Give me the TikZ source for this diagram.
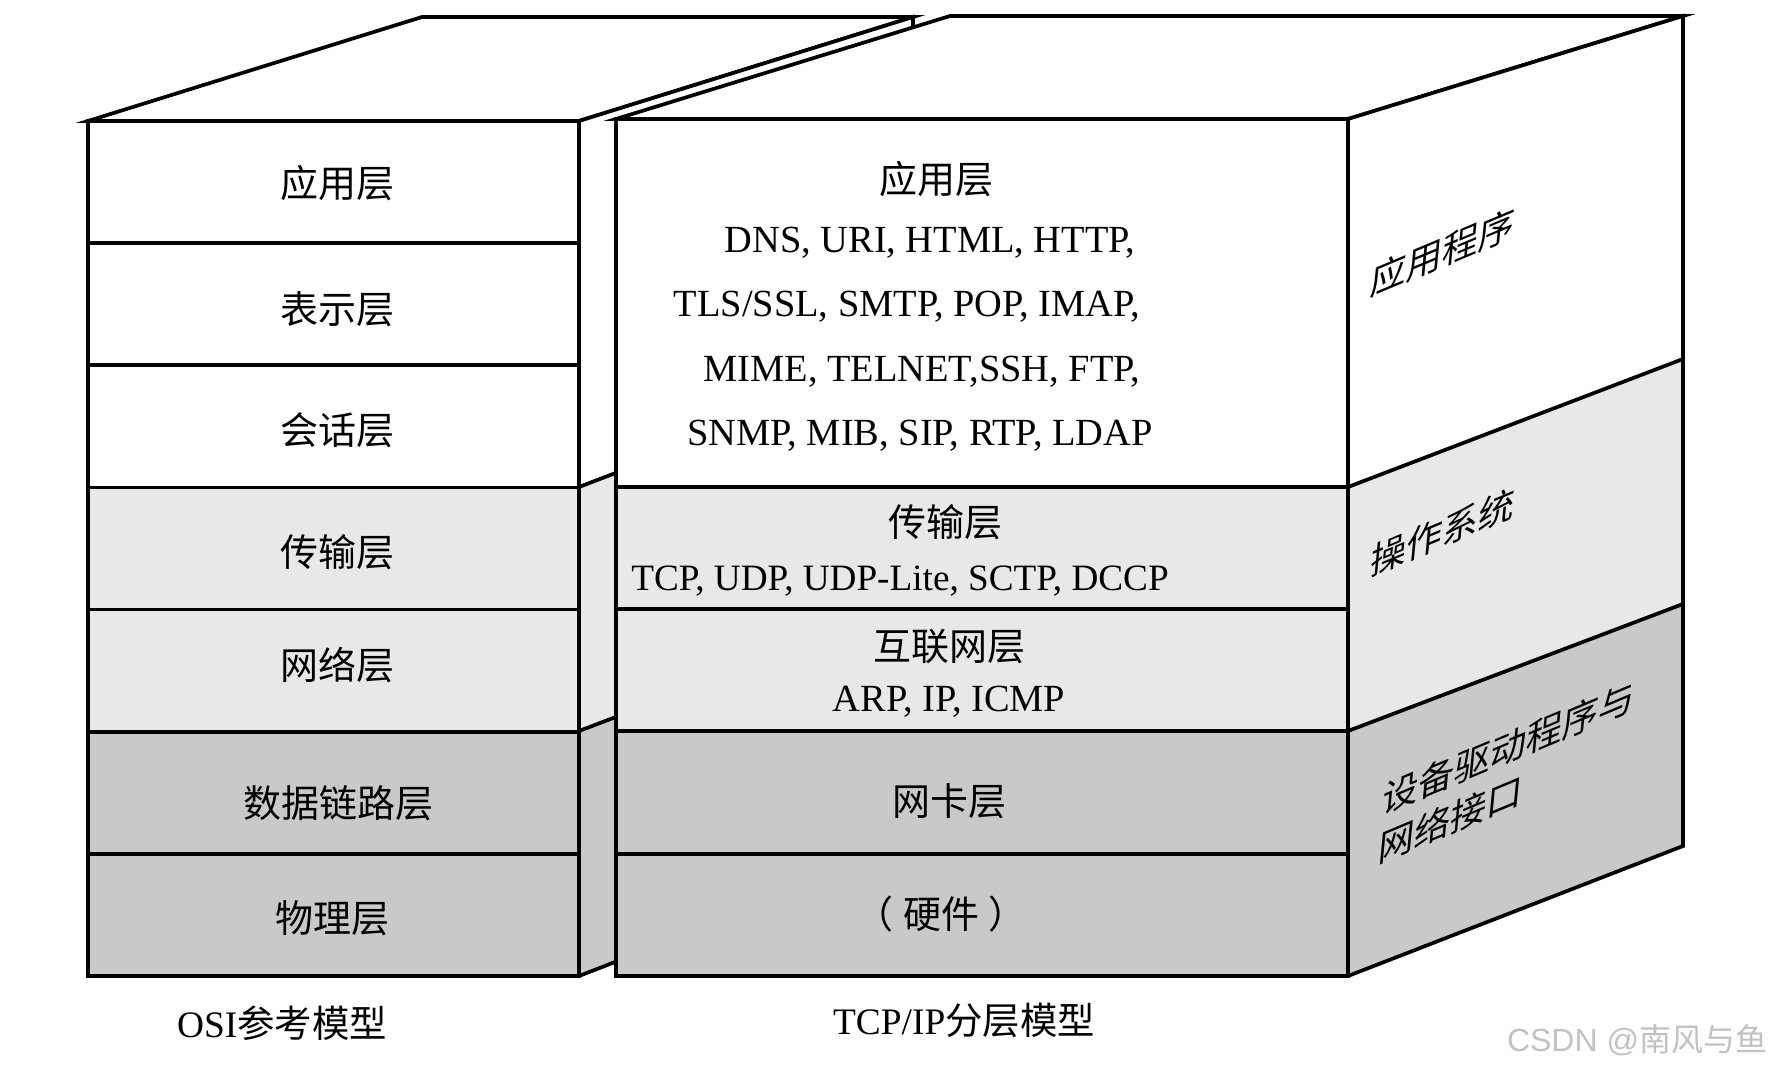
\documentclass[tikz,border=0pt]{standalone}
\usepackage{fontspec}
\setmainfont{Liberation Serif}
\newfontfamily\zhfont{Noto Sans CJK SC}
\newfontfamily\markfont{Liberation Sans}
\usetikzlibrary{positioning, calc}

\definecolor{tonelight}{gray}{0.91}
\definecolor{tonedark}{gray}{0.79}
\definecolor{marktone}{gray}{0.76}
\newcommand{\zh}[1]{{\zhfont #1}}

\begin{document}
\begin{tikzpicture}[
    x=0.5pt, y=-0.5pt,
    line join=miter,
    face/.style={
        draw=black,
        line width=1.85pt
    },
    zhtext/.style={
        font=\fontsize{19}{23}\zhfont,
        inner sep=0pt
    },
    entext/.style={
        font=\fontsize{19.2}{22}\selectfont,
        inner sep=0pt,
        anchor=base
    },
    caption/.style={
        font=\fontsize{18.7}{22}\selectfont,
        inner sep=0pt
    },
    sidetext/.style={
        font=\fontsize{18}{23.5}\zhfont,
        inner sep=0pt,
        align=left,
        yslant=0.42,
        xslant=0.1
    }
]

    % Canvas
    \fill[white] (0,0) rectangle (1776,1068);
    \useasboundingbox (0,0) rectangle (1776,1068);

    % OSI box: top and side faces
    \filldraw[face, fill=white] (88,121) -- (422,17) -- (913,17) -- (579,121) -- cycle;
    \fill[white] (579,121) -- (913,17) -- (913,359) -- (579,487) -- cycle;
    \fill[tonelight] (579,487) -- (913,359) -- (913,604) -- (579,731) -- cycle;
    \fill[tonedark] (579,731) -- (913,604) -- (913,846) -- (579,976) -- cycle;
    \draw[face] (579,487) -- (913,359) (579,731) -- (913,604);
    \draw[face] (579,121) -- (913,17) -- (913,846) -- (579,976);

    % OSI box: front layers
    \foreach \i/\tone in {0/white, 1/white, 2/white, 3/tonelight, 4/tonelight, 5/tonedark, 6/tonedark}
        \filldraw[face, fill=\tone] (88,{121+122.14*\i}) rectangle (579,{121+122.14*(\i+1)});

    % TCP/IP box: top and side faces
    \filldraw[face, fill=white] (616,119) -- (950,16) -- (1683,16) -- (1348,119) -- cycle;
    \fill[white] (1348,119) -- (1683,16) -- (1683,359) -- (1348,487) -- cycle;
    \fill[tonelight] (1348,487) -- (1683,359) -- (1683,604) -- (1348,731) -- cycle;
    \fill[tonedark] (1348,731) -- (1683,604) -- (1683,846) -- (1348,976) -- cycle;
    \draw[face] (1348,487) -- (1683,359) (1348,731) -- (1683,604);
    \draw[face] (1348,119) -- (1683,16) -- (1683,846) -- (1348,976);

    % TCP/IP box: front layers
    \foreach \ya/\yb/\tone in {119/487/white, 487/609/tonelight, 609/731/tonelight, 731/854/tonedark, 854/976/tonedark}
        \filldraw[face, fill=\tone] (616,\ya) rectangle (1348,\yb);

    % OSI labels
    \node[zhtext] (osiapp) at (337,183) {应用层};
    \node[zhtext] (osipres) at (337,309) {表示层};
    \node[zhtext] (osisess) at (337,430) {会话层};
    \node[zhtext] (ositrans) at (337,552) {传输层};
    \node[zhtext] (osinet) at (337,665) {网络层};
    \node[zhtext] (osilink) at (338,803) {数据链路层};
    \node[zhtext] (osiphys) at (332,918) {物理层};

    % TCP/IP labels
    \node[zhtext] (tcpapp) at (936,179) {应用层};
    \node[entext] (appa) at (930,253) {DNS, URI, HTML, HTTP,};
    \node[entext] (appb) at (907,317) {TLS/SSL, SMTP, POP, IMAP,};
    \node[entext] (appc) at (922,382) {MIME, TELNET,SSH, FTP,};
    \node[entext] (appd) at (920,446) {SNMP, MIB, SIP, RTP, LDAP};
    \node[zhtext] (tcptrans) at (945,522) {传输层};
    \node[entext, font=\fontsize{18.6}{22}\selectfont] (transa) at (900,591) {TCP, UDP, UDP-Lite, SCTP, DCCP};
    \node[zhtext] (tcpinet) at (949,647) {互联网层};
    \node[entext] (ineta) at (949,711) {ARP, IP, ICMP};
    \node[zhtext] (tcpnic) at (949,801) {网卡层};
    \node[zhtext] (tcphw) at (941,914) {（\hspace{0.25em}硬件\hspace{0.25em}）};

    % Side face labels
    \node[sidetext] (sideapp) at (1443,252) {应用程序};
    \node[sidetext] (sideos) at (1443,532) {操作系统};
    \node[sidetext] (sidedrv) at (1507,772) {设备驱动程序与\\网络接口};

    % Captions
    \node[caption] (osicap) at (282,1023) {OSI\zh{参考模型}};
    \node[caption] (tcpcap) at (964,1020) {TCP/IP\zh{分层模型}};
    \node[font=\fontsize{16}{18}\markfont, text=marktone, inner sep=0pt] (mark) at (1637,1040) {CSDN @\zh{南风与鱼}};

\end{tikzpicture}
\end{document}
